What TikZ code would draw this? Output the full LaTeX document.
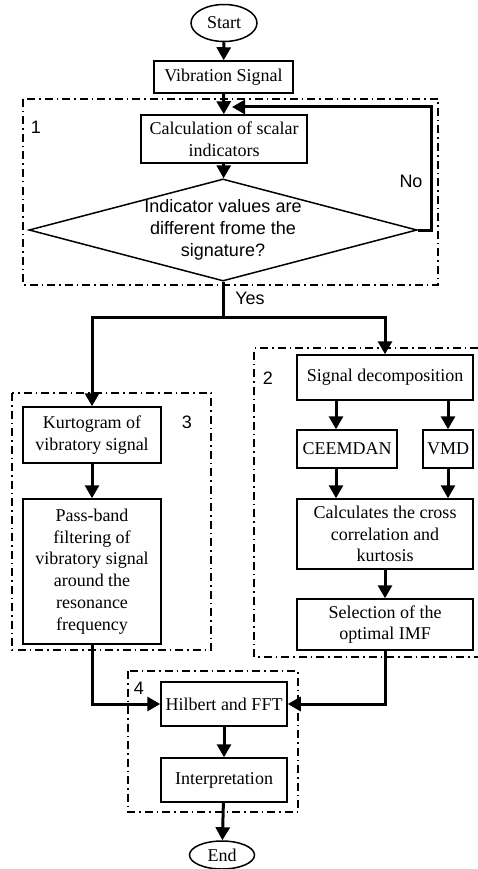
\documentclass[tikz,border=0pt]{standalone}
\usepackage{fontspec}
\setmainfont{Liberation Serif}
\setsansfont{Liberation Sans}
\usetikzlibrary{arrows.meta,shapes.geometric,calc}

\tikzset{
  box/.style={draw,line width=1.5pt,align=center,inner sep=0pt,
              font=\fontsize{18}{21.7}\selectfont},
  term/.style={box,ellipse},
  decision/.style={draw,diamond,line width=1.5pt,align=center,inner sep=0pt,aspect=3.8,
                   font=\sffamily\fontsize{18}{22}\selectfont},
  grp/.style={line width=1.3pt,dash pattern=on 8pt off 4pt on 1.5pt off 4pt},
  flow/.style={line width=3pt},
  arr/.style={flow,-{Triangle[length=13pt,width=14pt]}},
  tag/.style={font=\sffamily\fontsize{18}{22}\selectfont,inner sep=0pt}
}

\begin{document}
\begin{tikzpicture}[x=1pt,y=-1pt]
  \useasboundingbox (0,0) rectangle (478,869);

  % dash-dot frames
  \draw[grp] (23,99) rectangle (438,285);
  \draw[grp] (478,348) -| (254,657) -- (478,657);
  \draw[grp] (12,393) rectangle (211,650);
  \draw[grp] (128,671) rectangle (298,812);

  \node[term,minimum width=66pt,minimum height=37pt] (start) at (224,23) {Start};
  \node[box,minimum width=139pt,minimum height=32pt] (vib) at (223.5,77) {Vibration Signal};
  \node[box,minimum width=166pt,minimum height=48pt] (calc) at (224,139)
    {Calculation of scalar\\indicators};
  \node[decision,minimum width=388pt,minimum height=102pt] (dec) at (223,230)
    {Indicator values are\\different frome the\\signature?};

  \node[box,minimum width=176pt,minimum height=45pt] (sdec) at (385,377.5) {Signal decomposition};
  \node[box,minimum width=100pt,minimum height=38pt] (ceemdan) at (347,449) {CEEMDAN};
  \node[box,minimum width=50pt,minimum height=38pt] (vmd) at (448,449) {VMD};
  \node[box,minimum width=176pt,minimum height=70pt] (xcorr) at (385,534)
    {Calculates the cross\\correlation and\\kurtosis};
  \node[box,minimum width=176pt,minimum height=51pt] (imf) at (385,624.5)
    {Selection of the\\optimal IMF};

  \node[box,minimum width=138pt,minimum height=56pt] (kurt) at (92,435)
    {Kurtogram of\\vibratory signal};
  \node[box,minimum width=138pt,minimum height=145pt] (pband) at (92,571.5)
    {Pass-band\\filtering of\\vibratory signal\\around the\\resonance\\frequency};

  \node[box,minimum width=126pt,minimum height=44pt] (hilb) at (224,704) {Hilbert and FFT};
  \node[box,minimum width=126pt,minimum height=44pt] (interp) at (224,780) {Interpretation};
  \node[term,minimum width=65pt,minimum height=28pt] (stop) at (222,855) {End};

  % group numbers and branch labels
  \node[tag] (n1) at (36,127) {1};
  \node[tag] (n2) at (268,378) {2};
  \node[tag] (n3) at (187,422) {3};
  \node[tag] (n4) at (139,688) {4};
  \node[tag] (no) at (411,181) {No};
  \node[tag] (yes) at (250,298) {Yes};

  \coordinate (join) at (232,107);
  \coordinate (split) at (223,317);

  \draw[arr] (start) -- (vib);
  \draw[arr] (vib) -- (calc);
  \draw[arr] (calc) -- (dec);
  \draw[arr] (dec.east) -- (431,230) |- (join);
  \draw[flow] (dec.south) -- (split);
  \draw[arr] (split) -| (kurt.north);
  \draw[arr] (split) -| (sdec.north);
  \draw[arr] ([xshift=-49pt]sdec.south) -- ([xshift=-11pt]ceemdan.north);
  \draw[arr] ([xshift=63pt]sdec.south) -- (vmd.north);
  \draw[arr] ([xshift=-11pt]ceemdan.south) -- ([xshift=-49pt]xcorr.north);
  \draw[arr] (vmd.south) -- ([xshift=63pt]xcorr.north);
  \draw[arr] (xcorr) -- (imf);
  \draw[arr] (kurt) -- (pband);
  \draw[arr] (pband.south) |- (hilb.west);
  \draw[arr] (imf.south) |- (hilb.east);
  \draw[arr] (hilb) -- (interp);
  \draw[arr] (interp) -- (stop);
\end{tikzpicture}
\end{document}
